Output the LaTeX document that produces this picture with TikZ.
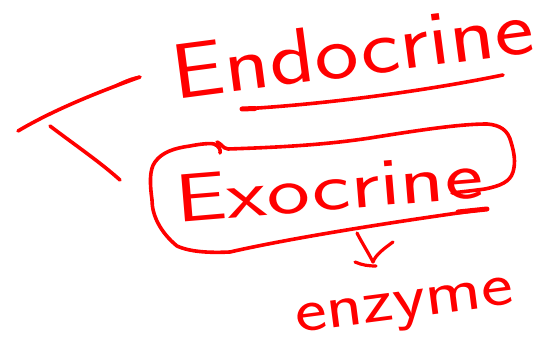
\documentclass[tikz,border=0pt]{standalone}
\begin{document}
\begin{tikzpicture}[x=1pt,y=-1pt,
  ink/.style={draw=red, line width=3.6pt, line cap=round, line join=round},
  hand/.style={text=red, inner sep=0pt, anchor=base, font=\sffamily}]
\useasboundingbox (0,0) rectangle (542,347);
% texts
\node[hand, rotate=7.5, font=\sffamily\fontsize{78}{90}\selectfont] (endo) at (356,76) {\scalebox{1.2}[1]{Endocrine}};
\node[hand, rotate=4.7, font=\sffamily\fontsize{68}{80}\selectfont] (exo) at (331,210) {\scalebox{1.35}[1]{Exocrine}};
\node[hand, rotate=7.4, font=\sffamily\fontsize{62}{70}\selectfont] (enz) at (406,318) {\scalebox{1.22}[1]{enzyme}};
% bracket "<"
\coordinate (l1) at (140,77);
\coordinate (l2) at (18,131);
\coordinate (l3) at (50,126);
\coordinate (l4) at (120,180);
\draw[ink] (l1) .. controls (90,95) and (50,112) .. (l2);
\draw[red, fill=red] (138,76) .. controls (130,80) and (118,85) .. (105,90) .. controls (118,83) and (128,78) .. (138,76) -- cycle;
\draw[ink] (l3) .. controls (75,145) and (100,162) .. (l4);
% underline Endocrine
\coordinate (u1) at (242,109);
\coordinate (u2) at (503,75);
\draw[ink] (u1) .. controls (330,104) and (430,90) .. (u2);
\draw[ink, line width=5pt] (u1) -- (255,108.5);
% box around Exocrine
\draw[ink] (487,209) .. controls (420,218) and (300,236) .. (230,252)
  .. controls (210,253) and (190,252) .. (177,246)
  .. controls (160,232) and (152,215) .. (152,200)
  .. controls (150,185) and (149,170) .. (155,162)
  .. controls (162,152) and (175,148) .. (190,146)
  .. controls (200,144) and (210,143) .. (214,144)
  .. controls (219,146) and (221,150) .. (220,153);
\draw[ink] (217,142) .. controls (222,144) and (222,148) .. (228,149)
  .. controls (290,147) and (330,144) .. (370,138)
  .. controls (420,130) and (460,124) .. (487,124)
  .. controls (500,125) and (508,130) .. (511,142)
  .. controls (514,152) and (516,162) .. (513,172)
  .. controls (510,182) and (500,186) .. (485,189)
  .. controls (470,191) and (460,192) .. (452,193);
\draw[ink, line width=5pt] (458,212) -- (487,209);
% small arrow
\coordinate (a1) at (357,233);
\coordinate (a2) at (373,262);
\coordinate (a3) at (393,242);
\coordinate (a4) at (355,262);
\coordinate (a5) at (376,266);
\draw[ink, line width=3.2pt] (a1) .. controls (362,243) and (368,252) .. (a2);
\draw[ink, line width=3.2pt] (a3) .. controls (385,248) and (376,254) .. (a2);
\draw[ink, line width=3.2pt] (a4) .. controls (362,265) and (368,266) .. (a5);
\end{tikzpicture}
\end{document}
